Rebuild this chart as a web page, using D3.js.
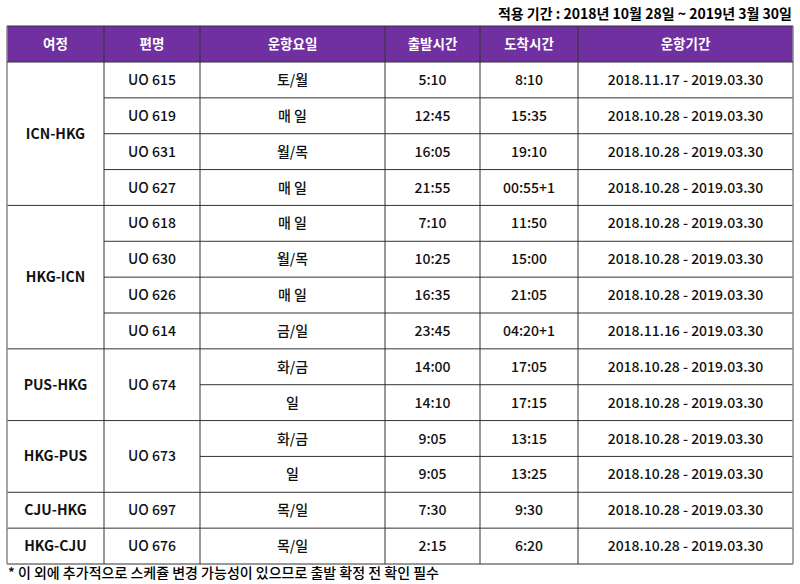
<!DOCTYPE html><html><head><meta charset="utf-8"><script src="https://cdn.jsdelivr.net/npm/d3@7"></script>
<style>body{margin:0;background:#fff}</style></head><body><svg id="c" width="800" height="584"></svg>
<script>
const headers=["여정","편명","운항요일","출발시간","도착시간","운항기간"];
const routes=["ICN-HKG","ICN-HKG","ICN-HKG","ICN-HKG","HKG-ICN","HKG-ICN","HKG-ICN","HKG-ICN","PUS-HKG","PUS-HKG","HKG-PUS","HKG-PUS","CJU-HKG","HKG-CJU"];
const flights=["UO 615","UO 619","UO 631","UO 627","UO 618","UO 630","UO 626","UO 614","UO 674","UO 674","UO 673","UO 673","UO 697","UO 676"];
const days=["토/월","매 일","월/목","매 일","매 일","월/목","매 일","금/일","화/금","일","화/금","일","목/일","목/일"];
const departures=["5:10","12:45","16:05","21:55","7:10","10:25","16:35","23:45","14:00","14:10","9:05","9:05","7:30","2:15"];
const arrivals=["8:10","15:35","19:10","00:55+1","11:50","15:00","21:05","04:20+1","17:05","17:15","13:15","13:25","9:30","6:20"];
const periods=["2018.11.17 - 2019.03.30","2018.10.28 - 2019.03.30","2018.10.28 - 2019.03.30","2018.10.28 - 2019.03.30","2018.10.28 - 2019.03.30","2018.10.28 - 2019.03.30","2018.10.28 - 2019.03.30","2018.11.16 - 2019.03.30","2018.10.28 - 2019.03.30","2018.10.28 - 2019.03.30","2018.10.28 - 2019.03.30","2018.10.28 - 2019.03.30","2018.10.28 - 2019.03.30","2018.10.28 - 2019.03.30"];
const title="적용 기간 : 2018년 10월 28일 ~ 2019년 3월 30일";
const note="* 이 외에 추가적으로 스케쥴 변경 가능성이 있으므로 출발 확정 전 확인 필수";
const colEdges=[7,104,200,385,480,578,793];
const svg=d3.select("#c");const F="'Noto Sans CJK KR','Noto Sans',sans-serif";
const y=d3.scaleBand().domain(d3.range(14)).range([62,564]);
const bw=y.bandwidth();
const cx=i=>(colEdges[i]+colEdges[i+1])/2;
svg.append("rect").attr("x",7).attr("y",26).attr("width",786).attr("height",36).attr("fill","#7030a0");
headers.forEach((h,i)=>svg.append("text").attr("x",cx(i)).attr("y",49).attr("text-anchor","middle").attr("fill","#fff").attr("font-family",F).attr("font-weight","bold").attr("font-size",13.5).text(h));
svg.append("text").attr("x",792).attr("y",19).attr("text-anchor","end").attr("font-family",F).attr("font-weight","bold").attr("font-size",14).text(title);
svg.append("text").attr("x",8).attr("y",578).attr("font-family",F).attr("font-size",14).attr("font-weight",500).text(note);
function groups(arr){const g=[];arr.forEach((v,i)=>{if(g.length&&g[g.length-1].v===v)g[g.length-1].n++;else g.push({v,s:i,n:1});});return g;}
const cols=[routes,flights,days,departures,arrivals,periods];
const lines=svg.append("g");
cols.forEach((arr,ci)=>{
  const g=(ci<2)?groups(arr.map((v,i)=>ci===1?routes[i]+"|"+v:v)):arr.map((v,i)=>({v,s:i,n:1}));
  g.forEach(d=>{
    const top=y(d.s),h=bw*d.n;const label=ci===1?d.v.split("|")[1]:d.v;
    svg.append("text").attr("x",cx(ci)).attr("y",top+h/2+5).attr("text-anchor","middle").attr("font-family",F).attr("font-weight",ci===0?"bold":500).attr("font-size",14).attr("fill","#111").text(label);
    lines.append("line").attr("x1",colEdges[ci]).attr("x2",colEdges[ci+1]).attr("y1",top+h).attr("y2",top+h).attr("stroke","#333").attr("stroke-width",1);
  });
});
colEdges.forEach((x,i)=>lines.append("line").attr("x1",x).attr("x2",x).attr("y1",26).attr("y2",564).attr("stroke",i===0||i===6?"#888":"#333").attr("stroke-width",i===0||i===6?1.5:1));
lines.append("line").attr("x1",7).attr("x2",793).attr("y1",26).attr("y2",26).attr("stroke","#333");
lines.append("line").attr("x1",7).attr("x2",793).attr("y1",62).attr("y2",62).attr("stroke","#333");
</script></body></html>
